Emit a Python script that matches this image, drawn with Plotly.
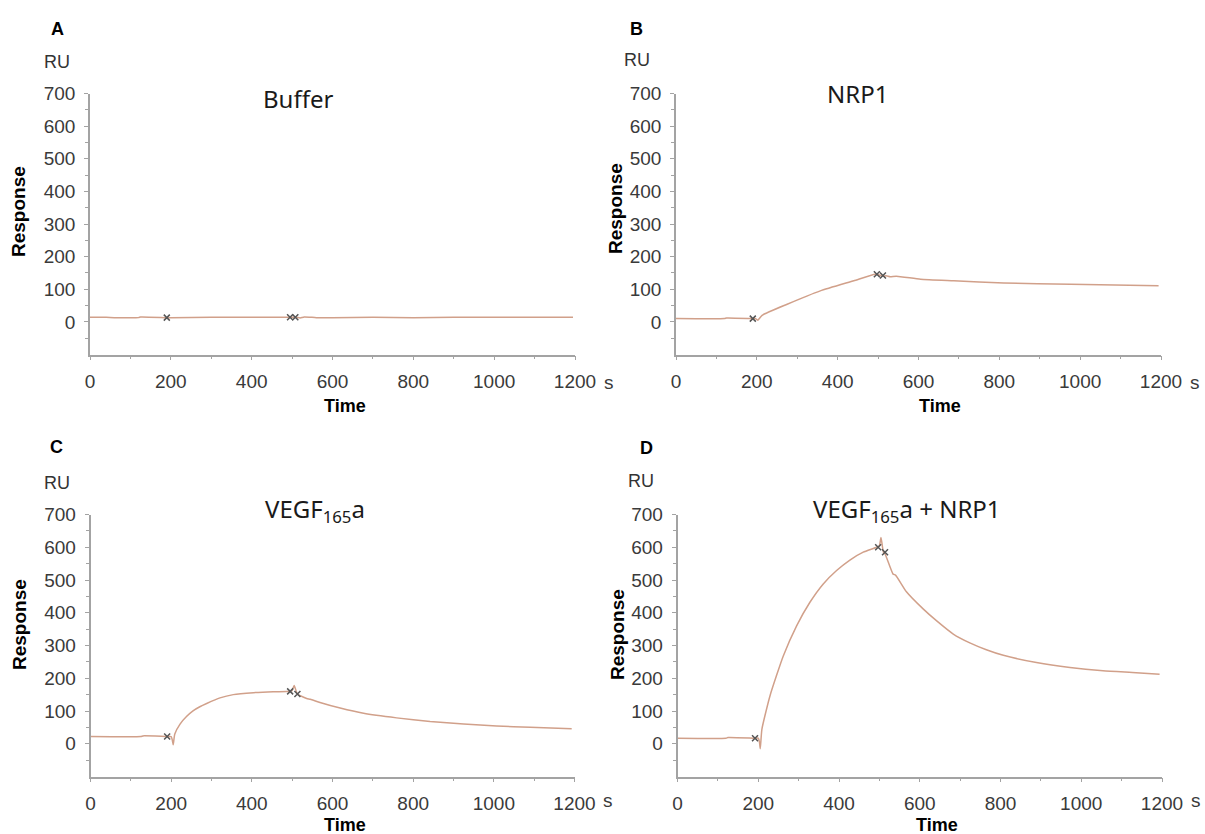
import plotly.graph_objects as go

W, H = 1205, 834

# ---------------- data ----------------
# Panel A: Buffer
a_time = [0, 40, 60, 120, 125, 190, 200, 300, 400, 495, 510, 520, 530, 560, 600, 700, 800, 900, 1000, 1100, 1195]
a_resp = [14, 14, 13, 13, 15, 13, 13, 14, 14, 14, 14, 12, 15, 13, 13, 14, 13, 14, 14, 14, 14]
a_mark_t = [190, 495, 508]
a_mark_r = [13, 14, 14]

# Panel B: NRP1
b_time = [0, 120, 125, 190, 197, 202, 213, 275, 357, 440, 493, 505, 512, 520, 530, 545, 605, 687, 811, 976, 1194]
b_resp = [10, 10, 12, 10, 10, 5, 20, 54, 95, 126, 146, 143, 140, 141, 138, 140, 131, 126, 119, 115, 111]
b_mark_t = [190, 497, 512]
b_mark_r = [10, 146, 142]

# Panel C: VEGF165a
c_time = [0, 125, 130, 190, 200, 203, 205, 209, 222, 238, 255, 271, 288, 321, 354, 404, 453, 495, 500, 505,
          513, 536, 545, 569, 619, 677, 759, 842, 925, 1007, 1090, 1193]
c_resp = [22, 22, 24, 22, 22, 10, -3, 30, 60, 83, 101, 113, 123, 140, 150, 156, 159, 160, 163, 178,
          152, 138, 136, 126, 109, 93, 79, 68, 60, 54, 50, 46]
c_mark_t = [190, 495, 513]
c_mark_r = [22, 160, 152]

# Panel D: VEGF165a + NRP1
d_time = [0, 120, 125, 192, 200, 203, 205, 209, 229, 262, 295, 328, 361, 394, 427, 460, 493, 500, 504,
          510, 514, 534, 540, 567, 609, 642, 683, 724, 765, 807, 889, 972, 1054, 1136, 1194]
d_resp = [17, 17, 19, 17, 17, 5, -15, 44, 146, 268, 360, 432, 488, 529, 561, 585, 600, 605, 630,
          585, 580, 518, 515, 464, 411, 375, 335, 308, 287, 270, 248, 233, 223, 217, 212]
d_mark_t = [192, 497, 514]
d_mark_r = [17, 600, 585]

x_tickvals = [0, 200, 400, 600, 800, 1000, 1200]
x_ticktext = ["0", "200", "400", "600", "800", "1000", "1200"]
y_tickvals = [0, 100, 200, 300, 400, 500, 600, 700]
y_ticktext = ["0", "100", "200", "300", "400", "500", "600", "700"]

panel_letters = ["A", "B", "C", "D"]
panel_titles = ["Buffer", "NRP1", "VEGF<sub>165</sub>a", "VEGF<sub>165</sub>a + NRP1"]

series = [
    (a_time, a_resp, a_mark_t, a_mark_r),
    (b_time, b_resp, b_mark_t, b_mark_r),
    (c_time, c_resp, c_mark_t, c_mark_r),
    (d_time, d_resp, d_mark_t, d_mark_r),
]

# ---------------- layout geometry (pixels) ----------------
dom_px = [
    ((90, 575), (354.5, 93.5)),
    ((676, 1161), (354.5, 93.5)),
    ((90.5, 574.5), (776.5, 514.5)),
    ((677.5, 1162), (776.5, 514.5)),
]

def fx(x):
    return x / W

def fy(y):
    return 1 - y / H

LINE_COLOR = "#d1a08a"
AXIS_COLOR = "#a3a3a3"
TICK_FONT = dict(family="Liberation Sans, Arial, sans-serif", size=19, color="#3a3a3a")

fig = go.Figure()
layout = dict(
    width=W, height=H, autosize=False,
    margin=dict(l=0, r=0, t=0, b=0, pad=0, autoexpand=False),
    paper_bgcolor="white", plot_bgcolor="white",
    showlegend=False,
)

for i, ((t, r, mt, mr), ((xl, xr), (yb, yt))) in enumerate(zip(series, dom_px)):
    n = "" if i == 0 else str(i + 1)
    fig.add_trace(go.Scatter(
        x=t, y=r, mode="lines",
        line=dict(color=LINE_COLOR, width=1.5, shape="spline", smoothing=0.5),
        xaxis="x" + n, yaxis="y" + n, hoverinfo="skip",
    ))
    fig.add_trace(go.Scatter(
        x=mt, y=mr, mode="markers",
        marker=dict(symbol="x-thin", size=6, line=dict(color="#555555", width=1.5)),
        xaxis="x" + n, yaxis="y" + n, hoverinfo="skip",
    ))
    layout["xaxis" + n] = dict(
        domain=[fx(xl), fx(xr)], range=[0, 1200], anchor="y" + n,
        showgrid=False, zeroline=False, showline=True, automargin=False,
        linecolor=AXIS_COLOR, linewidth=1.5,
        ticks="outside", ticklen=4, tickwidth=1.2, tickcolor=AXIS_COLOR,
        tickvals=x_tickvals, ticktext=x_ticktext,
        tickfont=TICK_FONT, ticklabelstandoff=5,
        minor=dict(tickvals=[100, 300, 500, 700, 900, 1100], ticks="outside",
                   ticklen=3, tickcolor=AXIS_COLOR, tickwidth=1),
    )
    layout["yaxis" + n] = dict(
        domain=[fy(yb), fy(yt)], range=[-100, 700], anchor="x" + n,
        showgrid=False, zeroline=False, showline=True, automargin=False,
        linecolor=AXIS_COLOR, linewidth=1.5,
        ticks="outside", ticklen=4, tickwidth=1.2, tickcolor=AXIS_COLOR,
        tickvals=y_tickvals, ticktext=y_ticktext,
        tickfont=TICK_FONT, ticklabelstandoff=5,
        minor=dict(tickvals=[-50, 50, 150, 250, 350, 450, 550, 650], ticks="outside",
                   ticklen=3, tickcolor=AXIS_COLOR, tickwidth=1),
    )

annotations = []

def ann(text, x, y, size, bold=False, family="Liberation Sans, Arial, sans-serif",
        color="#222222", angle=0):
    annotations.append(dict(
        text=("<b>%s</b>" % text) if bold else text,
        x=fx(x), y=fy(y), xref="paper", yref="paper",
        xanchor="center", yanchor="middle", showarrow=False,
        textangle=angle, font=dict(family=family, size=size, color=color),
    ))

letter_pos = [(57, 29), (636, 29), (56, 447), (646, 448)]
ru_pos = [(57, 62), (637, 60), (57, 483), (641, 481)]
title_pos = [(298, 98), (857, 94), (315, 510), (907, 510)]
resp_pos = [(19, 212), (615, 209), (19, 625), (617, 635)]
time_pos = [(345, 406), (940, 406), (345, 825), (937, 825)]
s_pos = [(609, 382), (1195, 382), (608, 800), (1196, 800)]

for i in range(4):
    ann(panel_letters[i], *letter_pos[i], 18, bold=True, color="#000000")
    ann("RU", *ru_pos[i], 18, color="#333333")
    ann(panel_titles[i], *title_pos[i], 24, family="Noto Sans, sans-serif", color="#1a1a1a")
    ann("Response", *resp_pos[i], 19, bold=True, color="#000000", angle=-90)
    ann("Time", *time_pos[i], 18, bold=True, color="#000000")
    ann("s", *s_pos[i], 19, color="#3a3a3a")

layout["annotations"] = annotations
fig.update_layout(**layout)

fig.write_html(
    "out.html",
    config={"displayModeBar": False, "responsive": False},
    post_script="document.body.style.margin='0px';document.body.style.overflow='hidden';",
)
